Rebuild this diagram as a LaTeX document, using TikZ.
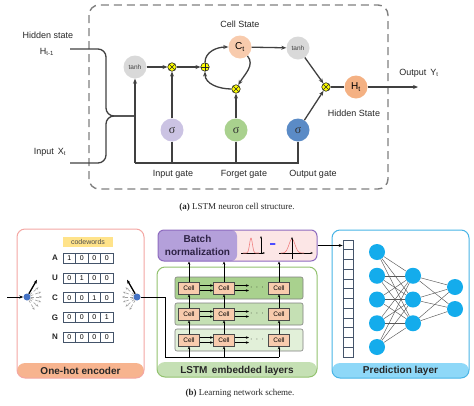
\documentclass[tikz,border=0pt]{standalone}
\usepackage{fontspec}
\setmainfont{Liberation Sans}
\newfontfamily\capfont{Liberation Serif}
\usetikzlibrary{arrows.meta}

\definecolor{wirec}{HTML}{404040}
\definecolor{tanhc}{HTML}{D9D9D9}
\definecolor{sigic}{HTML}{CBC3E3}
\definecolor{sigfc}{HTML}{A9D18E}
\definecolor{sigoc}{HTML}{5B8BC6}
\definecolor{ctc}{HTML}{F8CBAD}
\definecolor{htc}{HTML}{F4B183}
\definecolor{opc}{HTML}{FFFF00}
\definecolor{encbd}{HTML}{F4A7A3}
\definecolor{encbg}{HTML}{F7B48F}
\definecolor{lstmbd}{HTML}{92C26E}
\definecolor{lstmbg}{HTML}{C5E0B4}
\definecolor{rowa}{HTML}{A9D18E}
\definecolor{rowb}{HTML}{C5E0B4}
\definecolor{rowc}{HTML}{E2F0D9}
\definecolor{cellc}{HTML}{F8CBAD}
\definecolor{bnbd}{HTML}{8E6BBF}
\definecolor{bnleft}{HTML}{B4A0DA}
\definecolor{bnright}{HTML}{FCE6E6}
\definecolor{bntext}{HTML}{2E2345}
\definecolor{prbd}{HTML}{48B4E6}
\definecolor{prbg}{HTML}{8ED8F8}
\definecolor{nnc}{HTML}{14ACEC}
\definecolor{cwc}{HTML}{FFE38A}
\definecolor{dotc}{HTML}{4472C4}
\definecolor{bitbd}{HTML}{44546A}
\definecolor{bellc}{HTML}{F08080}

\begin{document}
\begin{tikzpicture}[x=1pt,y=-1pt,
 wire/.style={line width=1.3pt,draw=wirec},
 flow/.style={wire,-{Stealth[length=5pt,width=4pt]}},
 gate/.style={circle,minimum size=23pt,inner sep=0pt,font=\fontsize{10}{10}\selectfont},
 sig/.style={gate,font=\capfont\fontsize{12}{12}\selectfont,text=black!80},
 tanhg/.style={gate,fill=tanhc,font=\fontsize{6.5}{7}\selectfont,text=black!75},
 op/.style={circle,draw=black!85,fill=opc,minimum size=8.5pt,inner sep=0pt,line width=0.6pt},
 timesop/.style={op,path picture={\draw[line width=0.6pt] (path picture bounding box.north west)--(path picture bounding box.south east) (path picture bounding box.north east)--(path picture bounding box.south west);}},
 plusop/.style={op,path picture={\draw[line width=0.6pt] (path picture bounding box.north)--(path picture bounding box.south) (path picture bounding box.east)--(path picture bounding box.west);}},
 lbl/.style={font=\fontsize{9}{10}\selectfont,inner sep=1pt,text=black!85},
 capt/.style={font=\capfont\fontsize{9}{10}\selectfont,text=black!85},
 areabox/.style={draw,line width=1pt,rounded corners=8pt,inner sep=0pt,fill=white},
 band/.style={path picture={\fill[#1] (path picture bounding box.south west) rectangle ([yshift=15pt]path picture bounding box.south east);}},
 bandtext/.style={font=\bfseries\fontsize{10}{10}\selectfont,text=black!85},
 cw/.style={fill=cwc,minimum width=50pt,minimum height=10pt,inner sep=0pt,font=\fontsize{7}{7}\selectfont,text=black!70},
 letter/.style={font=\bfseries\fontsize{8}{8}\selectfont,text=black!85},
 bit/.style={draw=bitbd,line width=0.6pt,minimum width=12.5pt,minimum height=10pt,inner sep=0pt,font=\fontsize{7}{7}\selectfont},
 dot/.style={circle,fill=dotc,minimum size=7pt,inner sep=0pt},
 fan/.style={draw=gray!75,line width=0.6pt,densely dashed,-{Stealth[length=3pt]}},
 bigfan/.style={line width=1.3pt,-{Stealth[length=4pt]}},
 thinarr/.style={line width=0.8pt,-{Stealth[length=4pt]}},
 sarr/.style={line width=0.7pt,-{Stealth[length=3pt,width=2.5pt]}},
 rowpanel/.style={draw=gray,line width=0.6pt,rounded corners=2pt,minimum width=128pt,minimum height=22pt,inner sep=0pt},
 cellbox/.style={draw=black!70,fill=cellc,line width=0.6pt,minimum width=21pt,minimum height=12pt,inner sep=0pt,font=\fontsize{6.5}{7}\selectfont},
 veccell/.style={draw=bitbd,line width=0.6pt,minimum width=10pt,minimum height=9.75pt,inner sep=0pt},
 neuron/.style={circle,fill=nnc,minimum size=16pt,inner sep=0pt},
 nnedge/.style={draw=black!65,line width=0.45pt}]

\useasboundingbox (0,0) rectangle (474,405);

\draw[gray,line width=1.4pt,dash pattern=on 8pt off 5pt,rounded corners=10pt] (89,5) rectangle (388,189);

\node[lbl] (hlbl) at (48,35) {Hidden state};
\node[lbl] (hsub) at (47,52) {H\textsubscript{t-1}};
\node[lbl] (xlbl) at (50,152) {Input\, X\textsubscript{t}};
\node[lbl] (cslbl) at (240,24) {Cell State};
\node[lbl] (iglbl) at (173,174) {Input gate};
\node[lbl] (fglbl) at (244,174) {Forget gate};
\node[lbl] (oglbl) at (313,174) {Output gate};
\node[lbl] (hslbl) at (354,113) {Hidden State};
\node[lbl] (ylbl) at (419,73) {Output\, Y\textsubscript{t}};

\node[tanhg] (tanhin) at (135,67) {tanh};
\node[timesop] (mulin) at (172,67) {};
\node[plusop] (add) at (205,67) {};
\node[gate,fill=ctc] (ct) at (240,47) {C\textsubscript{t}};
\node[timesop] (mulf) at (236,89) {};
\node[tanhg] (tanhout) at (298,48) {tanh};
\node[timesop] (mulo) at (326,87) {};
\node[gate,fill=htc] (ht) at (356,87) {H\textsubscript{t}};
\node[sig,fill=sigic] (sigi) at (172,130) {σ};
\node[sig,fill=sigfc] (sigf) at (236,130) {σ};
\node[sig,fill=sigoc] (sigo) at (298,130) {σ};

\coordinate (hin) at (70,49);
\coordinate (xin) at (70,163);
\coordinate (join) at (106,116);
\coordinate (bus) at (135,163);
\coordinate (yout) at (418,87);

\draw[wire,rounded corners=8pt] (hin) -| (join) -- (join -| bus);
\draw[wire,rounded corners=8pt] (xin) -| (join) -- (join -| bus);
\draw[wire] (bus) -- (sigo |- bus) -- (sigo);
\draw[wire] (sigi) -- (sigi |- bus);
\draw[wire] (sigf) -- (sigf |- bus);
\draw[flow] (bus) -- (tanhin);
\draw[flow] (tanhin) -- (mulin);
\draw[flow] (sigi) -- (mulin);
\draw[flow] (mulin) -- (add);
\draw[flow] (add) to[out=90,in=180] (ct);
\draw[flow] (ct) to[out=-50,in=60] (mulf);
\draw[flow] (mulf) to[out=180,in=-90] (add);
\draw[flow] (sigf) -- (mulf);
\draw[flow] (ct) -- (tanhout);
\draw[flow] (tanhout) -- (mulo);
\draw[flow] (sigo) -- (mulo);
\draw[wire] (mulo) -- (ht);
\draw[flow] (ht) -- (yout);

\node[capt] (capa) at (237,207) {\textbf{(a)} LSTM neuron cell structure.};

\node[areabox,draw=encbd,band=encbg,minimum width=127pt,minimum height=149pt] (enc) at (80.5,303.5) {};
\node[bandtext] (enct) at (80.5,370.5) {One-hot encoder};
\node[cw] (cwd) at (88,242) {codewords};
\foreach \l/\k [count=\i] in {A/1,U/2,C/3,G/4,N/0}{
 \node[letter] (l\l) at (55,{238.5+\i*19.7}) {\l};
 \foreach \j in {1,...,4}
  \node[bit] (b\l\j) at ({56.75+\j*12.5},{238.5+\i*19.7}) {\ifnum\j=\k\relax 1\else 0\fi};
}
\node[dot] (dl) at (27,297) {};
\node[dot] (dr) at (137,297) {};
\coordinate (encin) at (7,297);
\draw[thinarr] (encin) -- (dl);
\foreach \a in {40,20,0,-20,-40,-60}{
 \draw[fan] (dl) -- ++(-\a:15);
 \draw[fan] (dr) -- ++(\a-180:15);
}
\draw[bigfan] (dl) -- ++(-60:20);
\draw[bigfan] (dr) -- ++(-120:20);

\node[areabox,draw=lstmbd,band=lstmbg,minimum width=160pt,minimum height=110pt] (lstm) at (237,322) {};
\node[bandtext] (lstmt) at (237,370.5) {LSTM\, embedded layers};
\node[areabox,draw=bnbd,fill=bnright,minimum width=159pt,minimum height=31pt,rounded corners=6pt,
 path picture={\fill[bnleft] (path picture bounding box.north west) rectangle ([xshift=79pt]path picture bounding box.south west);}] (bn) at (237.5,245.5) {};
\node[bandtext,align=center,text=bntext,font=\bfseries\fontsize{10}{12.5}\selectfont] (bnt) at (197.5,245.5) {Batch\\normalization};
\draw[line width=0.6pt,-{Stealth[length=2.5pt]}] (241,253) -- (265,253);
\draw[bellc,line width=0.6pt,smooth,samples=30,domain=243:259] plot (\x,{253-15*exp(-((\x-251)^2)/4)});
\draw[line width=0.6pt,-{Stealth[length=2.5pt]}] (261,254) -- (261,236);
\draw[blue!70,line width=1.2pt,-{Stealth[length=2pt]}] (270,244) -- (276,244);
\draw[line width=0.6pt,-{Stealth[length=2.5pt]}] (279,253) -- (313,253);
\draw[bellc,line width=0.6pt,smooth,samples=40,domain=281:304] plot (\x,{253-14*exp(-((\x-292)^2)/18)});
\draw[line width=0.6pt,-{Stealth[length=2.5pt]}] (292,259) -- (292,237);

\foreach \r/\y/\c in {1/288/rowa,2/314/rowb,3/340/rowc}{
 \node[rowpanel,fill=\c] (row\r) at (239,\y) {};
 \node[cellbox] (c\r1) at (189,\y) {Cell};
 \node[cellbox] (c\r2) at (224,\y) {Cell};
 \node[cellbox] (c\r3) at (279,\y) {Cell};
 \node[inner sep=1pt,font=\fontsize{8}{8}\selectfont] (d\r) at (257,\y) {$\cdot\,\cdot\,\cdot$};
 \draw[sarr] ([yshift=2.5pt]c\r1.east) -- ([yshift=2.5pt]c\r2.west);
 \draw[sarr] ([yshift=-2.5pt]c\r1.east) -- ([yshift=-2.5pt]c\r2.west);
 \draw[sarr] ([yshift=2.5pt]c\r2.east) -- ([yshift=2.5pt]d\r.west);
 \draw[sarr] ([yshift=-2.5pt]c\r2.east) -- ([yshift=-2.5pt]d\r.west);
}
\coordinate (lbus) at (165,357);
\draw[line width=0.8pt] (dr) -| (lbus) -- (c33 |- lbus);
\foreach \k in {1,2,3}{
 \draw[sarr] (c3\k |- lbus) -- (c3\k);
 \draw[sarr] (c3\k) -- (c2\k);
 \draw[sarr] (c2\k) -- (c1\k);
 \draw[sarr] (c1\k) -- (c1\k |- bn.south);
}

\node[areabox,draw=prbd,band=prbg,minimum width=137pt,minimum height=148pt] (pred) at (400.5,304) {};
\node[bandtext] (predt) at (400.5,370.5) {Prediction layer};
\foreach \k in {1,...,12} \node[veccell] (v\k) at (348,{235.125+\k*9.75}) {};
\draw[thinarr] (bn) -- (bn -| v1.west);
\foreach \k in {1,...,5} \node[neuron] (na\k) at (377,{228.25+\k*23.75}) {};
\foreach \k in {1,2,3} \node[neuron] (nb\k) at (413,{252+\k*23.75}) {};
\foreach \k in {1,2} \node[neuron] (nc\k) at (455,{265+\k*22}) {};
\foreach \i in {1,...,5} \foreach \j in {1,2,3} \draw[nnedge] (na\i) -- (nb\j);
\foreach \i in {1,2,3} \foreach \j in {1,2} \draw[nnedge] (nb\i) -- (nc\j);

\node[capt] (capb) at (240,393) {\textbf{(b)} Learning network scheme.};
\end{tikzpicture}
\end{document}
